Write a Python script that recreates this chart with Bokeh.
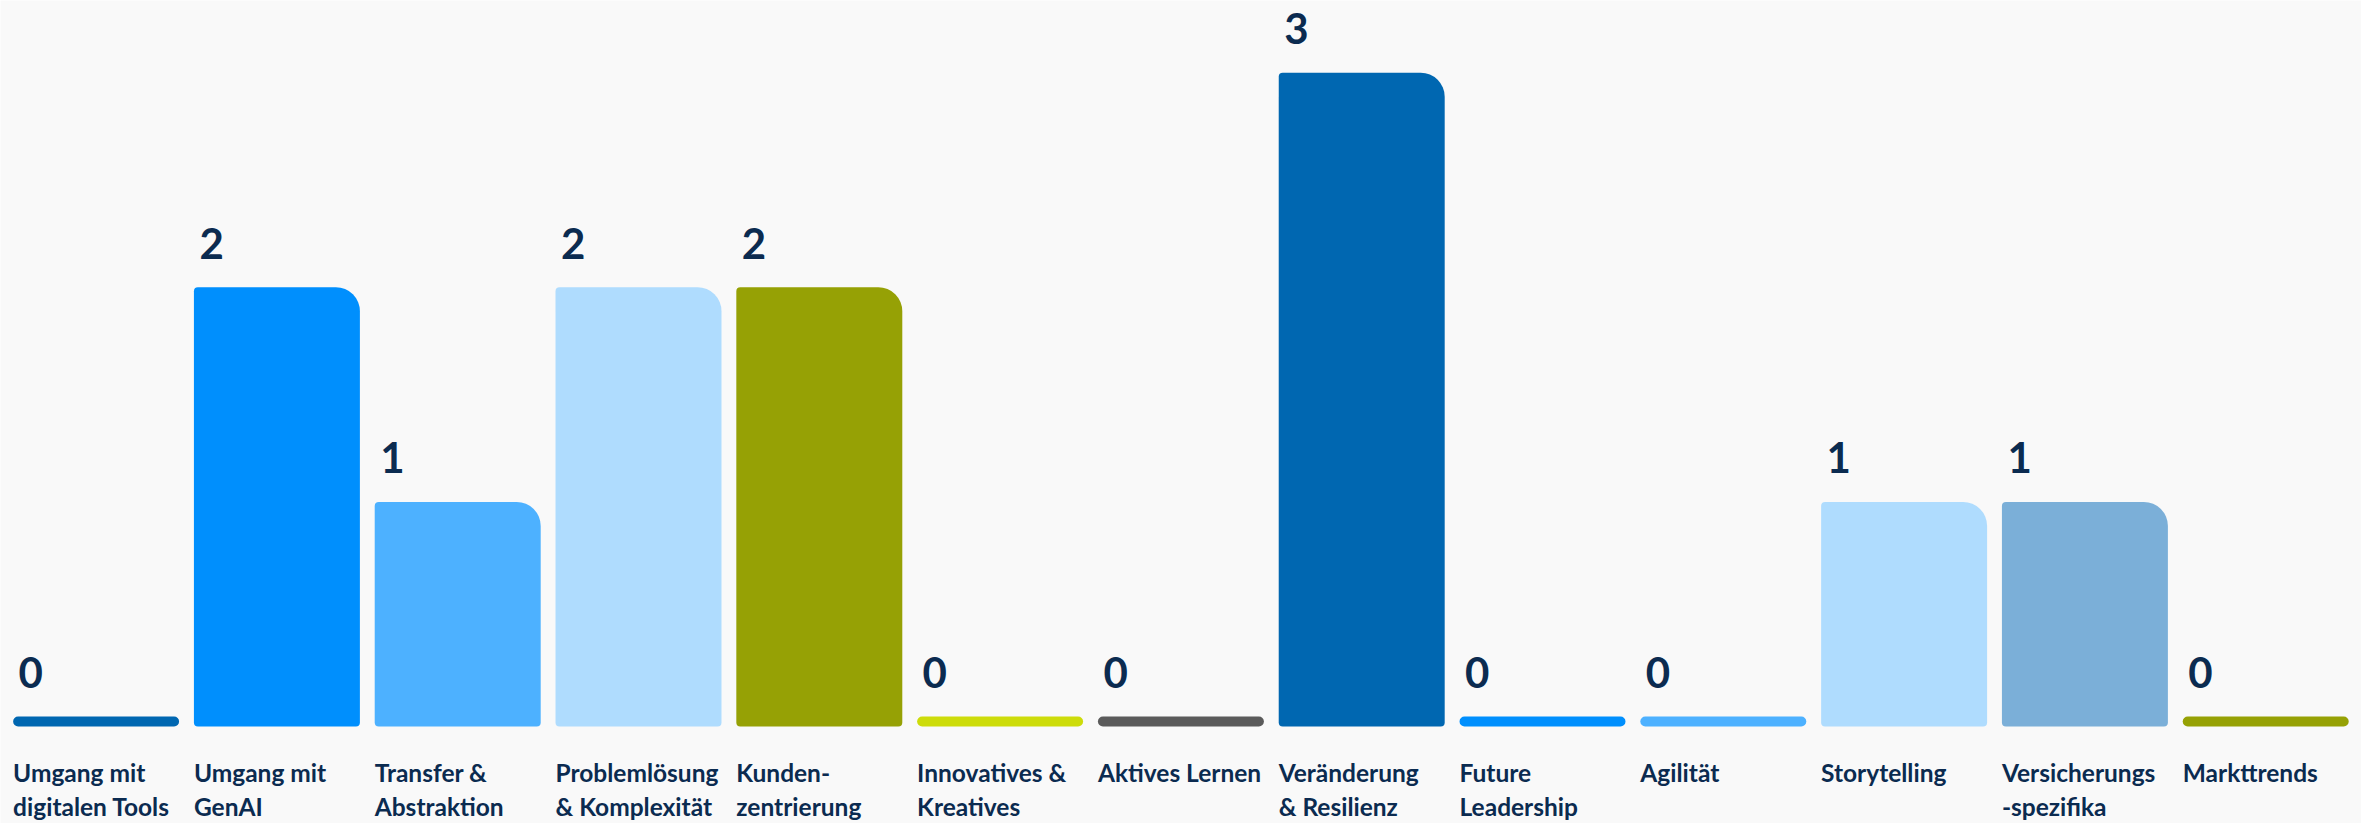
from bokeh.plotting import figure
from bokeh.models import ColumnDataSource, Range1d
from bokeh.core.properties import value
from bokeh.embed import file_html
from bokeh.resources import INLINE

# ---- data ----
categories = [
    "Umgang mit\ndigitalen Tools",
    "Umgang mit\nGenAI",
    "Transfer &\nAbstraktion",
    "Problemlösung\n & Komplexität",
    "Kunden-\nzentrierung",
    "Innovatives &\nKreatives",
    "Aktives Lernen",
    "Veränderung\n& Resilienz",
    "Future\nLeadership",
    "Agilität",
    "Storytelling",
    "Versicherungs\n-spezifika",
    "Markttrends",
]
counts = [0, 2, 1, 2, 2, 0, 0, 3, 0, 0, 1, 1, 0]
bar_colors = [
    "#0067b1", "#008ffd", "#4db1ff", "#afdcfe", "#96a105", "#cddc0a",
    "#5b5b5b", "#0067b1", "#008ffd", "#4db1ff", "#afdcfe", "#7bafd8", "#96a105",
]

# ---- style ----
BG = "#f9f9f9"
NAVY = "#0b2b50"
BAR_W = 0.918
HALF = BAR_W / 2
FONT = value("Lato")

idx = list(range(len(categories)))
line1 = [c.split("\n")[0] for c in categories]
line2 = [c.split("\n")[1] if "\n" in c else "" for c in categories]

def subset(pred):
    sel = [i for i in idx if pred(counts[i])]
    return ColumnDataSource(dict(
        x=sel,
        count=[counts[i] for i in sel],
        color=[bar_colors[i] for i in sel],
    ))

p = figure(
    width=2361, height=823,
    x_range=Range1d(-0.5288, 12.5298),
    y_range=Range1d(-0.4986, 3.3364),
    output_backend="svg", toolbar_location=None,
    x_axis_location=None, y_axis_location=None,
    min_border=0,
)
p.background_fill_color = BG
p.border_fill_color = BG
p.outline_line_color = None
p.xgrid.grid_line_color = None
p.ygrid.grid_line_color = None

base = -10 / 214.6  # bars start a few pixels under the zero line

p.vbar(x="x", width=BAR_W, bottom=base, top="count", source=subset(lambda v: v > 0),
       fill_color="color", line_color=None, border_radius=(4, 24, 4, 4))
p.vbar(x="x", width=BAR_W, bottom=base, top="count", source=subset(lambda v: v == 0),
       fill_color="color", line_color=None, border_radius=5)

lab = ColumnDataSource(dict(
    lx=[i - HALF for i in idx],
    count=counts,
    txt=[str(v) for v in counts],
    zero=[0] * len(idx),
    l1=line1,
    l2=line2,
))

p.text(x="lx", y="count", text="txt", source=lab, x_offset=5.5, y_offset=-44,
       text_font=FONT, text_font_style="bold", text_font_size="42px",
       text_color=NAVY, text_align="left", text_baseline="alphabetic")

p.text(x="lx", y="zero", text="l1", source=lab, x_offset=0, y_offset=56,
       text_font=FONT, text_font_style="bold", text_font_size="24.5px",
       text_color=NAVY, text_align="left", text_baseline="alphabetic")
p.text(x="lx", y="zero", text="l2", source=lab, x_offset=0, y_offset=90.5,
       text_font=FONT, text_font_style="bold", text_font_size="24.5px",
       text_color=NAVY, text_align="left", text_baseline="alphabetic")

html = file_html(p, INLINE)
html = html.replace("<body>", '<body style="background:%s">' % BG, 1)
open("out.html", "w").write(html)
